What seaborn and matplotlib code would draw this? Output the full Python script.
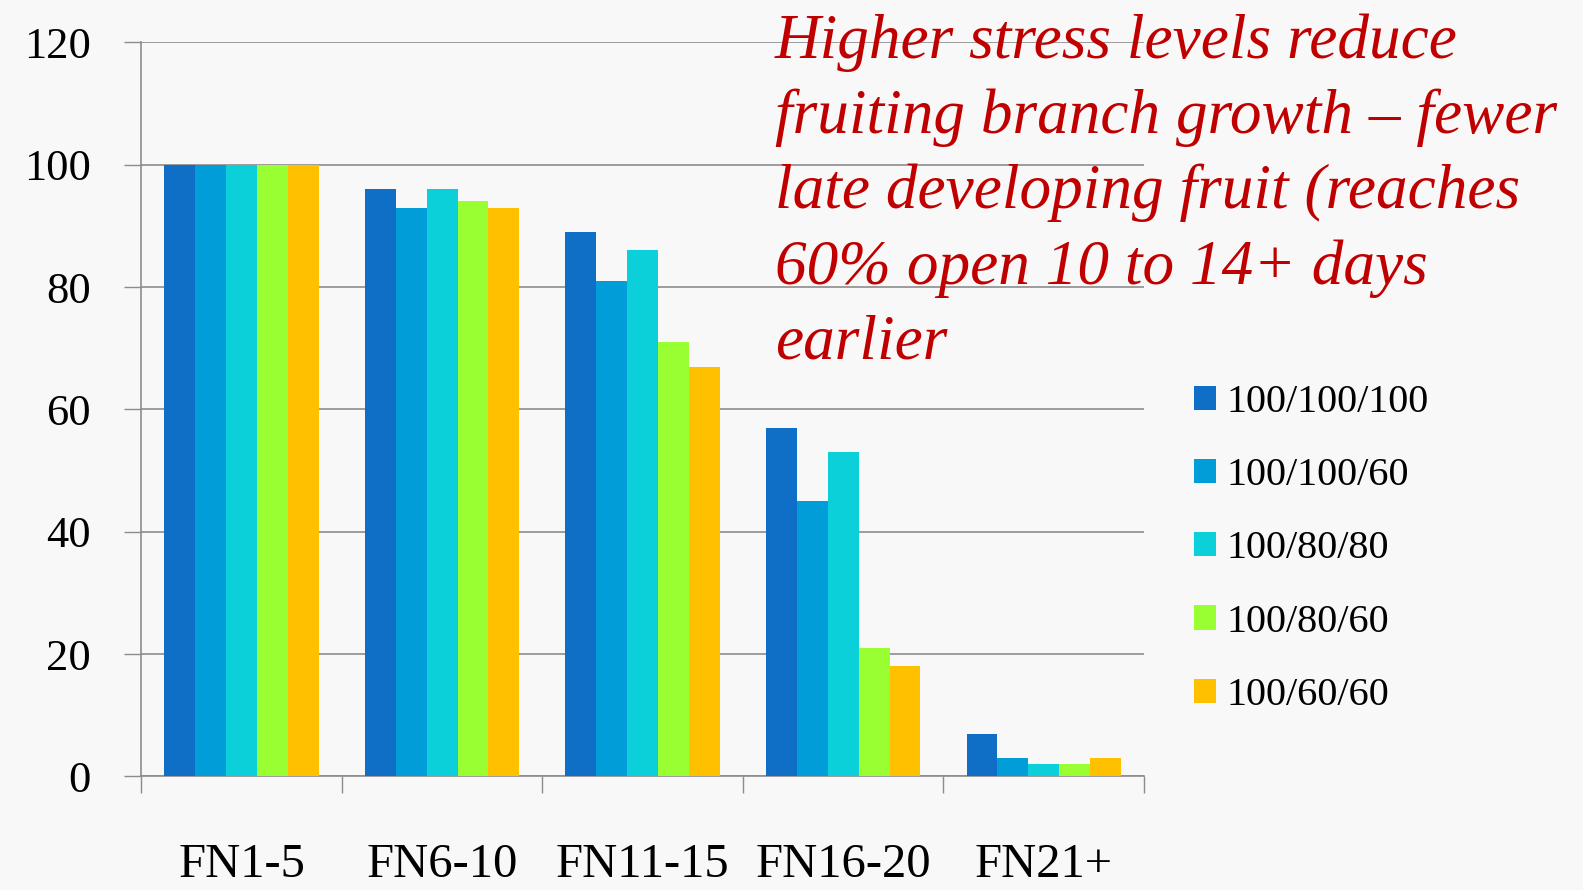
import matplotlib
matplotlib.use("Agg")
import matplotlib.pyplot as plt
import seaborn as sns
import pandas as pd
from matplotlib.patches import Patch

categories = ["FN1-5", "FN6-10", "FN11-15", "FN16-20", "FN21+"]
series_names = ["100/100/100", "100/100/60", "100/80/80", "100/80/60", "100/60/60"]
s_100_100_100 = [100, 96, 89, 57, 7]
s_100_100_60 = [100, 93, 81, 45, 3]
s_100_80_80 = [100, 96, 86, 53, 2]
s_100_80_60 = [100, 94, 71, 21, 2]
s_100_60_60 = [100, 93, 67, 18, 3]
y_ticks = [0, 20, 40, 60, 80, 100, 120]
colors = ["#0F6FC6", "#009DD9", "#0BD0D9", "#99FF33", "#FFC000"]
note = ("Higher stress levels reduce\n"
        "fruiting branch growth \u2013 fewer\n"
        "late developing fruit (reaches\n"
        "60% open 10 to 14+ days\n"
        "earlier")

series_values = [s_100_100_100, s_100_100_60, s_100_80_80, s_100_80_60, s_100_60_60]
rows = []
for name, vals in zip(series_names, series_values):
    for cat, v in zip(categories, vals):
        rows.append({"cat": cat, "series": name, "value": v})
df = pd.DataFrame(rows)

sns.set_theme(style="white")
plt.rcParams["font.family"] = ["Liberation Serif", "DejaVu Serif"]
plt.rcParams["text.color"] = "black"
plt.rcParams["xtick.color"] = "black"
plt.rcParams["ytick.color"] = "black"
bg = "#F8F8F8"
fig = plt.figure(figsize=(15.83, 8.90), dpi=100, facecolor=bg)
ax = fig.add_axes([141.3 / 1583, 1 - 776.4 / 890, (1144 - 141.3) / 1583, (776.4 - 42.4) / 890])
ax.set_facecolor(bg)

sns.barplot(data=df, x="cat", y="value", hue="series", order=categories,
            hue_order=series_names, palette=colors, width=0.77, ax=ax,
            saturation=1, edgecolor="none", linewidth=0, legend=False, zorder=3)

ax.set_ylim(0, 120)
ax.set_xlim(-0.5, len(categories) - 0.5)
ax.set_yticks(y_ticks)
ax.set_yticklabels([str(t) for t in y_ticks])
ax.yaxis.grid(True, color="#8C8C8C", linewidth=1.2, zorder=0)
ax.set_axisbelow(True)
ax.xaxis.grid(False)
for side in ["top", "right"]:
    ax.spines[side].set_visible(False)
for side in ["left", "bottom"]:
    ax.spines[side].set_color("#8C8C8C")
    ax.spines[side].set_linewidth(1.2)

ax.tick_params(axis="y", which="major", direction="out", length=12.5, width=1.0,
               color="#8C8C8C", labelcolor="black", labelsize=32, pad=24, left=True)
ax.set_xticks(range(len(categories)))
ax.set_xticklabels(categories)
ax.set_xticks([i - 0.5 for i in range(len(categories) + 1)], minor=True)
ax.tick_params(axis="x", which="major", length=0, labelsize=35, pad=48, labelcolor="black")
ax.tick_params(axis="x", which="minor", direction="out", length=12, width=1.0,
               color="#8C8C8C", bottom=True)
ax.set_xlabel("")
ax.set_ylabel("")

handles = [Patch(facecolor=c, edgecolor="none", label=n) for c, n in zip(colors, series_names)]
fig.legend(handles=handles, loc="upper left", bbox_to_anchor=(1194 / 1583, 1 - 384 / 890),
           frameon=False, fontsize=29, handlelength=0.55, handleheight=0.55,
           handletextpad=0.25, labelspacing=0.9, borderaxespad=0, borderpad=0,
           labelcolor="black")

fig.text(775 / 1583, 1 - 13 / 890, note, ha="left", va="top", color="#C00000",
         fontsize=45.5, fontstyle="italic", linespacing=1.38,
         family=["Liberation Serif", "DejaVu Serif"])

fig.savefig("out.png", dpi=100, facecolor=bg)
